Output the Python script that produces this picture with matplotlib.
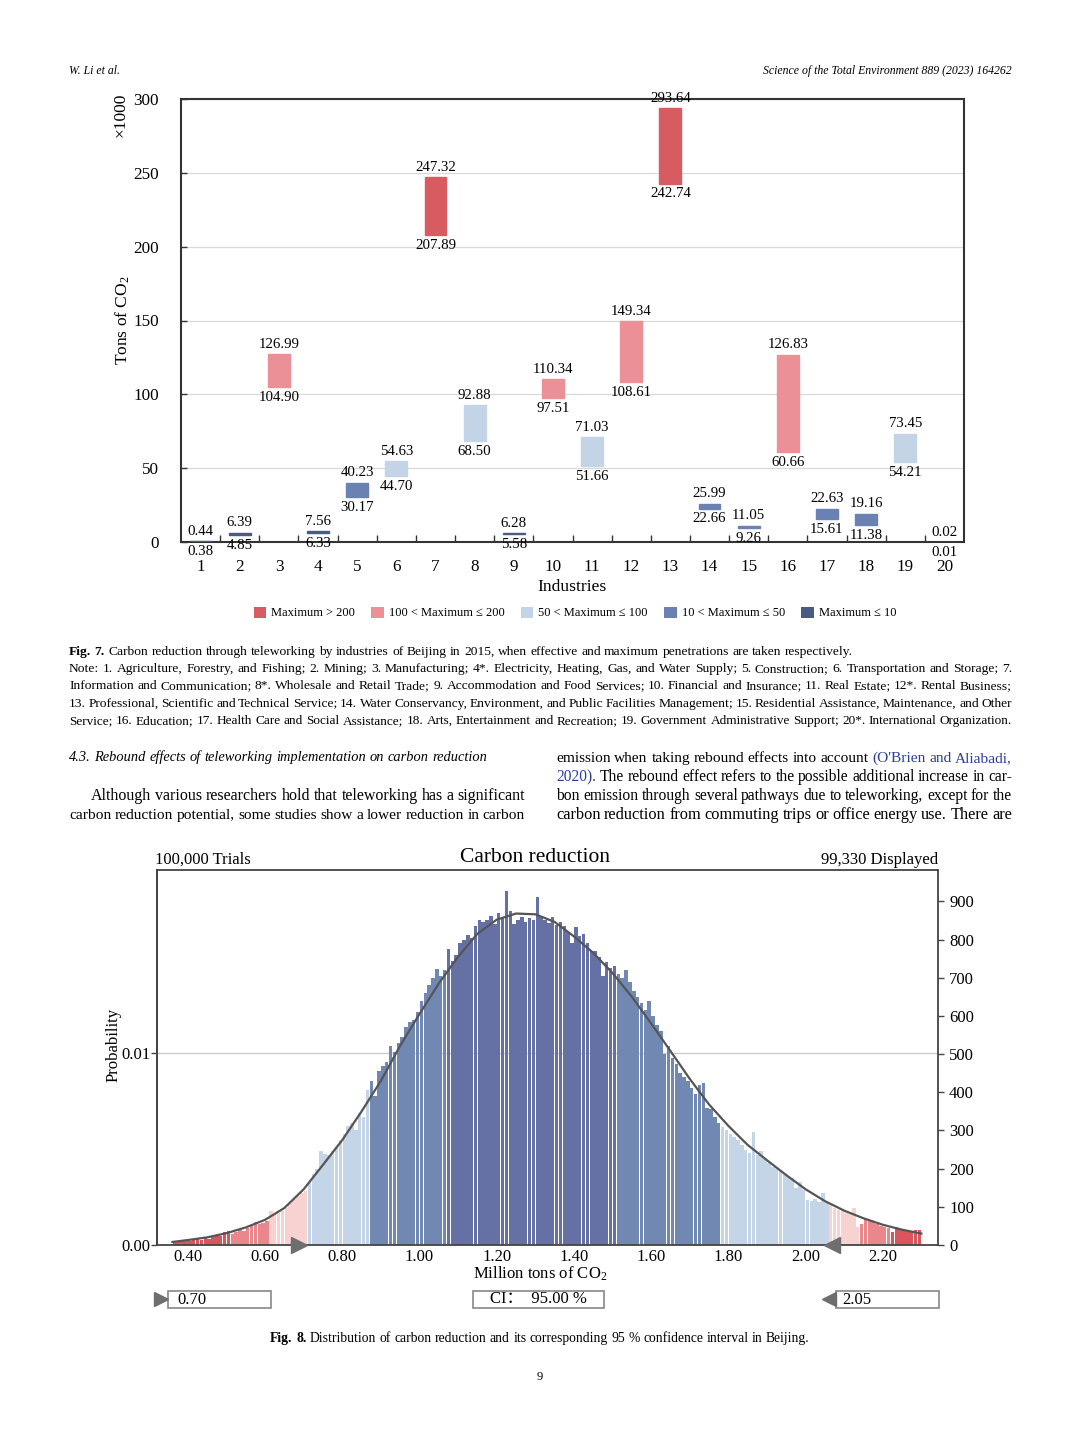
import numpy as np
import matplotlib
matplotlib.use('Agg')
import matplotlib.pyplot as plt
from matplotlib.patches import Patch, Rectangle

plt.rcParams['font.family'] = ['Liberation Serif', 'DejaVu Serif', 'Noto Sans CJK SC']
plt.rcParams['mathtext.fontset'] = 'custom'
plt.rcParams['mathtext.rm'] = 'Liberation Serif'
plt.rcParams['mathtext.it'] = 'Liberation Serif:italic'
plt.rcParams['mathtext.bf'] = 'Liberation Serif:bold'

W, H = 1080, 1439

# ---- Fig. 7: reduction range per industry (x1000 tons CO2)
industries = list(range(1, 21))
reduction_min = [0.38, 4.85, 104.90, 6.33, 30.17, 44.70, 207.89, 68.50, 5.58, 97.51,
                 51.66, 108.61, 242.74, 22.66, 9.26, 60.66, 15.61, 11.38, 54.21, 0.01]
reduction_max = [0.44, 6.39, 126.99, 7.56, 40.23, 54.63, 247.32, 92.88, 6.28, 110.34,
                 71.03, 149.34, 293.64, 25.99, 11.05, 126.83, 22.63, 19.16, 73.45, 0.02]
class_names = ['Maximum > 200', '100 < Maximum ≤ 200', '50 < Maximum ≤ 100',
               '10 < Maximum ≤ 50', 'Maximum ≤ 10']
class_limits = [200, 100, 50, 10]
class_colors = ['#d85b61', '#ec9097', '#c2d4e5', '#6b81b4', '#4b5a83']

# ---- Fig. 8: simulated distribution (bins of 0.01 starting at 0.36)
hist_start = 0.36
hist_step = 0.01
hist_counts = [
    8, 9, 10, 14, 11, 13, 17, 12, 21, 16,
    22, 26, 24, 34, 37, 30, 33, 38, 36, 44,
    50, 60, 56, 58, 64, 88, 82, 84, 90, 96,
    110, 120, 128, 136, 142, 165, 185, 200, 245, 238,
    236, 245, 255, 275, 290, 312, 320, 300, 345, 335,
    405, 430, 390, 455, 470, 480, 520, 505, 530, 545,
    570, 585, 590, 610, 640, 660, 680, 700, 722, 705,
    720, 775, 745, 760, 790, 800, 812, 805, 835, 850,
    845, 850, 862, 840, 870, 860, 928, 875, 840, 852,
    860, 845, 855, 850, 912, 860, 850, 842, 860, 838,
    845, 835, 820, 790, 832, 808, 815, 790, 770, 770,
    755, 705, 740, 725, 730, 710, 700, 720, 690, 665,
    650, 635, 615, 640, 600, 575, 560, 500, 520, 490,
    475, 450, 440, 430, 410, 395, 420, 425, 360, 355,
    335, 320, 310, 300, 290, 282, 275, 262, 250, 240,
    296, 235, 245, 225, 215, 205, 200, 195, 185, 180,
    175, 150, 165, 145, 118, 115, 120, 112, 135, 110,
    104, 98, 92, 88, 85, 80, 97, 48, 56, 70,
    64, 60, 55, 50, 48, 45, 34, 46, 40, 38,
    36, 35, 38, 40]
fit_x = [0.36, 0.40, 0.45, 0.50, 0.55, 0.60, 0.65, 0.70, 0.75, 0.80, 0.85, 0.90,
         0.95, 1.00, 1.05, 1.10, 1.15, 1.20, 1.25, 1.30, 1.35, 1.40, 1.45, 1.50,
         1.55, 1.60, 1.65, 1.70, 1.75, 1.80, 1.85, 1.90, 1.95, 2.00, 2.05, 2.10,
         2.15, 2.20, 2.25, 2.30]
fit_y = [8, 13, 20, 31, 46, 66, 97, 146, 210, 275, 350, 430,
         522, 605, 685, 755, 815, 852, 868, 866, 846, 808, 765, 712,
         650, 580, 508, 435, 368, 312, 262, 222, 183, 146, 115, 90,
         70, 53, 40, 30]
zone_edges = [0.51, 0.61, 0.71, 0.87, 1.07, 1.51, 1.78, 2.055, 2.135, 2.22]
zone_colors = ['#d9565e', '#ea878d', '#f7d2d1', '#c3d5e6', '#7189b2', '#6571a5',
               '#7189b2', '#c3d5e6', '#f7d2d1', '#ea878d', '#d9565e']
ci_low, ci_high, ci_level = 0.70, 2.05, 95.00
prob_to_count = 50200.0

fig = plt.figure(figsize=(W / 100, H / 100), dpi=100)
page = fig.add_axes([0, 0, 1, 1])
page.set_xlim(0, W)
page.set_ylim(H, 0)
page.axis('off')
renderer = fig.canvas.get_renderer()


def text_width(s, size, **kw):
    t = page.text(0, 0, s, fontsize=size, **kw)
    w = t.get_window_extent(renderer).width
    t.remove()
    return w


def put_line(x0, y, text, size, x1=None, center=None, style=None, **kw):
    # words share one baseline; y is the visual middle of the line in pixels
    style = style or {}
    words = text.split(' ')
    base = y + 0.3 * size * 100 / 72
    sp_nat = text_width('x x', size, **kw) - text_width('xx', size, **kw)
    arts = []
    for i, w in enumerate(words):
        k = dict(kw)
        k.update(style.get(i, {}))
        arts.append(page.text(0, base, w, fontsize=size, va='baseline', ha='left', **k))
    widths = [a.get_window_extent(renderer).width for a in arts]
    sp = sp_nat
    if x1 is not None and len(words) > 1:
        sp = (x1 - x0 - sum(widths)) / (len(words) - 1)
        if sp < 0.7 * sp_nat:
            ratio = (x1 - x0 - 0.9 * sp_nat * (len(words) - 1)) / sum(widths)
            for a in arts:
                a.set_fontsize(size * ratio)
            widths = [a.get_window_extent(renderer).width for a in arts]
            sp = (x1 - x0 - sum(widths)) / (len(words) - 1)
    if center is not None:
        x0 = center - (sum(widths) + sp * (len(words) - 1)) / 2
    x = x0
    for a, w in zip(arts, widths):
        a.set_x(x)
        x += w + sp


# ---- page header
page.text(69, 71, 'W. Li et al.', fontsize=8.5, style='italic', va='center')
page.text(1012, 71, 'Science of the Total Environment 889 (2023) 164262', fontsize=8.5,
          style='italic', va='center', ha='right')

# ---- Fig. 7
ax1 = fig.add_axes([181 / W, 1 - 542 / H, 783 / W, 443 / H])
bar_colors = []
for mx in reduction_max:
    k = 0
    while k < len(class_limits) and mx <= class_limits[k]:
        k += 1
    bar_colors.append(class_colors[k])
heights = [b - a for a, b in zip(reduction_min, reduction_max)]
ax1.bar(industries, heights, bottom=reduction_min, width=0.56, color=bar_colors,
        edgecolor=bar_colors, linewidth=1.0, zorder=3)
for x, lo, hi in zip(industries, reduction_min, reduction_max):
    ax1.annotate(f'{hi:.2f}', (x, hi), xytext=(0, 7), textcoords='offset points',
                 ha='center', va='center', fontsize=10.7, zorder=4)
    ax1.annotate(f'{lo:.2f}', (x, lo), xytext=(0, -7.5), textcoords='offset points',
                 ha='center', va='center', fontsize=10.7, zorder=4,
                 annotation_clip=False)
ax1.set_xlim(0.5, 20.5)
ax1.set_ylim(0, 300)
ax1.set_yticks(range(0, 301, 50))
ax1.set_xticks(industries)
ax1.set_xticks(np.arange(1.5, 20, 1.0), minor=True)
ax1.tick_params(axis='x', which='major', length=0, labelsize=12.3, pad=12)
ax1.tick_params(axis='x', which='minor', direction='in', length=5, width=1, color='#333333')
ax1.tick_params(axis='y', direction='in', length=4, width=1, labelsize=12.3, pad=16,
                color='#333333')
ax1.grid(axis='y', color='#d9d9d9', lw=0.9)
ax1.set_axisbelow(True)
for s in ax1.spines.values():
    s.set_color('#333333')
    s.set_linewidth(1.5)
page.text(121, 115, '×1000', fontsize=12.5, rotation=90, ha='center', va='center')
page.text(123, 320, 'Tons of CO$_2$', fontsize=12.5, rotation=90, ha='center', va='center')
page.text(572, 587, 'Industries', fontsize=12.6, ha='center', va='center')
handles = [Patch(facecolor=c, edgecolor='none') for c in class_colors]
fig.legend(handles, class_names, loc='center', bbox_to_anchor=(575 / W, 1 - 613 / H),
           ncol=5, frameon=False, fontsize=9, handlelength=1.0, handleheight=1.0,
           handletextpad=0.4, columnspacing=1.3)

# ---- caption Fig. 7 and body text
cap = 9.7
put_line(69, 651, 'Fig. 7. Carbon reduction through teleworking by industries of Beijing in 2015, '
         'when effective and maximum penetrations are taken respectively.', cap,
         style={0: {'weight': 'bold'}, 1: {'weight': 'bold'}})
note_lines = [
    'Note: 1. Agriculture, Forestry, and Fishing; 2. Mining; 3. Manufacturing; 4*. Electricity, '
    'Heating, Gas, and Water Supply; 5. Construction; 6. Transportation and Storage; 7.',
    'Information and Communication; 8*. Wholesale and Retail Trade; 9. Accommodation and Food '
    'Services; 10. Financial and Insurance; 11. Real Estate; 12*. Rental Business;',
    '13. Professional, Scientific and Technical Service; 14. Water Conservancy, Environment, and '
    'Public Facilities Management; 15. Residential Assistance, Maintenance, and Other',
    'Service; 16. Education; 17. Health Care and Social Assistance; 18. Arts, Entertainment and '
    'Recreation; 19. Government Administrative Support; 20*. International Organization.',
]
for i, ln in enumerate(note_lines):
    put_line(69, 668 + i * 17.3, ln, cap, x1=1012)

body = 11.8
blue = {'color': '#2a3f9e'}
put_line(69, 757, '4.3. Rebound effects of teleworking implementation on carbon reduction',
         10.4, style={i: {'style': 'italic'} for i in range(12)})
put_line(91, 795, 'Although various researchers hold that teleworking has a significant', body,
         x1=525)
put_line(69, 814, 'carbon reduction potential, some studies show a lower reduction in carbon',
         body, x1=525)
put_line(556, 757, "emission when taking rebound effects into account (O'Brien and Aliabadi,",
         body, x1=1012, style={7: blue, 8: blue, 9: blue})
put_line(556, 776, '2020). The rebound effect refers to the possible additional increase in car-',
         body, x1=1012, style={0: blue})
put_line(556, 795, 'bon emission through several pathways due to teleworking, except for the',
         body, x1=1012)
put_line(556, 814, 'carbon reduction from commuting trips or office energy use. There are',
         body, x1=1012)

# ---- Fig. 8
ax2 = fig.add_axes([157 / W, 1 - 1245 / H, 781 / W, 375 / H])
lefts = np.round(hist_start + hist_step * np.arange(len(hist_counts)), 3)
hcolors = [zone_colors[np.searchsorted(zone_edges, v + 1e-6, side='right')] for v in lefts]
ax2.bar(lefts + hist_step / 2, hist_counts, width=hist_step * 0.9, color=hcolors,
        linewidth=0, zorder=2)
ax2.plot(fit_x, fit_y, color='#555555', lw=1.6, zorder=3)
ax2.axhline(0.01 * prob_to_count, color='#cccccc', lw=1.0, zorder=1)
ax2.set_xlim(0.32, 2.343)
ax2.set_ylim(0, 982)
ax2.set_xticks(np.arange(0.40, 2.21, 0.20))
ax2.xaxis.set_major_formatter(matplotlib.ticker.FormatStrFormatter('%.2f'))
ax2.tick_params(axis='x', length=0, labelsize=12, pad=3)
ax2.yaxis.tick_right()
ax2.set_yticks(range(0, 901, 100))
ax2.tick_params(axis='y', direction='out', length=4, width=1, labelsize=12, pad=4,
                color='#444444')
sec = ax2.secondary_yaxis('left', functions=(lambda c: c / prob_to_count,
                                             lambda p: p * prob_to_count))
sec.set_yticks([0.0, 0.01])
sec.yaxis.set_major_formatter(matplotlib.ticker.FormatStrFormatter('%.2f'))
sec.tick_params(direction='out', length=4, width=1, labelsize=12, pad=1, color='#444444')
sec.spines['left'].set_color('#444444')
sec.spines['left'].set_linewidth(1.3)
for s in ax2.spines.values():
    s.set_color('#444444')
    s.set_linewidth(1.3)
ax2.plot([ci_low - 0.012], [0], marker='>', markersize=11, color='#6e6e6e', clip_on=False,
         zorder=5)
ax2.plot([ci_high + 0.018], [0], marker='<', markersize=11, color='#6e6e6e', clip_on=False,
         zorder=5)

page.text(535, 858, 'Carbon reduction', fontsize=15.5, ha='center', va='center')
page.text(155, 860, '100,000 Trials', fontsize=12, ha='left', va='center')
page.text(938, 860, '99,330 Displayed', fontsize=12, ha='right', va='center')
page.text(114, 1045, 'Probability', fontsize=12, rotation=90, ha='center', va='center')
page.text(540, 1274, 'Million tons of CO$_2$', fontsize=12, ha='center', va='center')

# CI controls below the histogram
for (bx0, bx1) in [(168, 271), (473, 604), (836, 939)]:
    page.add_patch(Rectangle((bx0, 1291), bx1 - bx0, 17, fill=False, edgecolor='#888888',
                             lw=1.2))
page.text(177, 1300, f'{ci_low:.2f}', fontsize=12, va='center')
page.text(538, 1299, f'CI：  {ci_level:.2f} %', fontsize=12, ha='center', va='center')
page.text(842, 1300, f'{ci_high:.2f}', fontsize=12, va='center')
page.plot([161], [1299], marker='>', markersize=10, color='#6e6e6e')
page.plot([829], [1299], marker='<', markersize=10, color='#6e6e6e')

put_line(0, 1338, 'Fig. 8. Distribution of carbon reduction and its corresponding 95 % '
         'confidence interval in Beijing.', 9.8, center=540,
         style={0: {'weight': 'bold'}, 1: {'weight': 'bold'}})
page.text(540, 1377, '9', fontsize=9, ha='center', va='center')

fig.savefig('out.png', dpi=100)
